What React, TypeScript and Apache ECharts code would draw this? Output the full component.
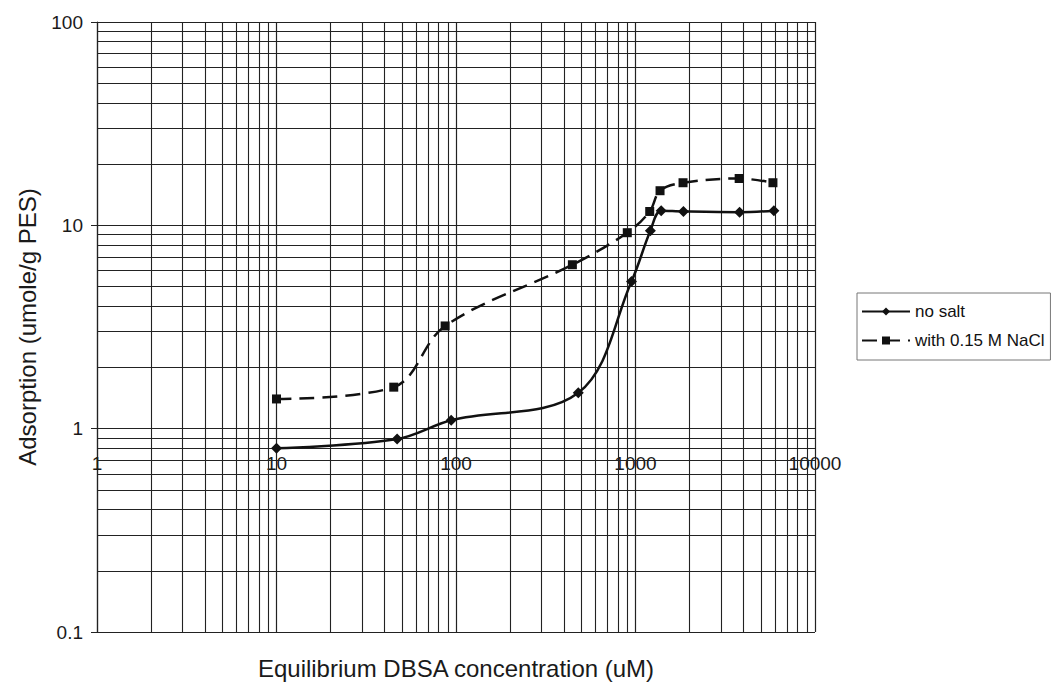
import React, { useEffect, useRef } from "react";
import * as echarts from "echarts";

const noSaltX = [10, 47, 94, 480, 950, 1210, 1390, 1850, 3800, 5900];
const noSaltY = [0.8, 0.89, 1.1, 1.5, 5.3, 9.4, 11.8, 11.7, 11.6, 11.8];
const naclX = [10, 45, 87, 445, 900, 1200, 1370, 1840, 3780, 5830];
const naclY = [1.4, 1.6, 3.2, 6.4, 9.2, 11.7, 14.8, 16.2, 17.0, 16.2];

const minorDigits = [2, 3, 4, 5, 6, 7, 8, 9];
const xDecades = [1, 10, 100, 1000];
const yDecades = [0.1, 1, 10];

export default function App() {
  const ref = useRef<HTMLDivElement>(null);
  useEffect(() => {
    if (!ref.current) return;
    const chart = echarts.init(ref.current, null, { renderer: "svg" });
    const gridColor = "#222";
    const minorLines: any[] = [];
    xDecades.forEach((d) => minorDigits.forEach((m) => minorLines.push({ xAxis: d * m })));
    yDecades.forEach((d) => minorDigits.forEach((m) => minorLines.push({ yAxis: +(d * m).toPrecision(3) })));
    const font = "Liberation Sans, Arial, sans-serif";
    const plain = (v: number) => String(+v.toPrecision(6));
    chart.setOption({
      animation: false,
      backgroundColor: "#fff",
      textStyle: { fontFamily: font },
      grid: { left: 97, top: 22, width: 718, height: 610, containLabel: false },
      legend: {
        orient: "vertical",
        left: 857,
        top: 293,
        data: ["no salt", "with 0.15 M NaCl"],
        borderColor: "#777",
        borderWidth: 1,
        padding: [10, 6, 11, 4],
        itemGap: 12,
        itemWidth: 48,
        itemHeight: 10,
        textStyle: { fontSize: 17, color: "#111", fontFamily: font },
      },
      xAxis: {
        type: "log",
        min: 1,
        max: 10000,
        logBase: 10,
        offset: -203.3,
        axisLine: { show: false },
        axisTick: { show: false },
        axisLabel: { fontSize: 19, color: "#1a1a1a", margin: 25, formatter: plain },
        splitLine: { show: true, lineStyle: { color: gridColor, width: 1.2 } },
        name: "Equilibrium DBSA concentration (uM)",
        nameLocation: "middle",
        nameGap: 228,
        nameTextStyle: { fontSize: 24, color: "#1a1a1a" },
      },
      yAxis: {
        type: "log",
        min: 0.1,
        max: 100,
        logBase: 10,
        axisLine: { show: true, lineStyle: { color: gridColor, width: 1.2 } },
        axisTick: { show: true, length: 6, lineStyle: { color: gridColor } },
        axisLabel: { fontSize: 19, color: "#1a1a1a", margin: 14, formatter: plain },
        splitLine: { show: true, lineStyle: { color: gridColor, width: 1.2 } },
        name: "Adsorption (umole/g PES)",
        nameLocation: "middle",
        nameGap: 58,
        nameTextStyle: { fontSize: 24, color: "#1a1a1a" },
      },
      series: [
        {
          name: "grid-minor",
          type: "line",
          data: [],
          z: 1,
          silent: true,
          markLine: {
            silent: true,
            symbol: "none",
            label: { show: false },
            lineStyle: { color: gridColor, width: 1.1, type: "solid" },
            data: minorLines,
          },
        },
        {
          name: "no salt",
          type: "line",
          z: 5,
          smooth: 0.35,
          data: noSaltX.map((x, i) => [x, noSaltY[i]]),
          symbol: "diamond",
          symbolSize: 11,
          itemStyle: { color: "#111" },
          lineStyle: { color: "#111", width: 2.5 },
        },
        {
          name: "with 0.15 M NaCl",
          type: "line",
          z: 5,
          smooth: 0.35,
          data: naclX.map((x, i) => [x, naclY[i]]),
          symbol: "rect",
          symbolSize: 9,
          itemStyle: { color: "#111" },
          lineStyle: { color: "#111", width: 2.5, type: [15, 8] },
        },
      ],
    });
    return () => chart.dispose();
  }, []);
  return (
    <div
      ref={ref}
      style={{ position: "fixed", left: 0, top: 0, width: 1061, height: 689, background: "#fff" }}
    />
  );
}
